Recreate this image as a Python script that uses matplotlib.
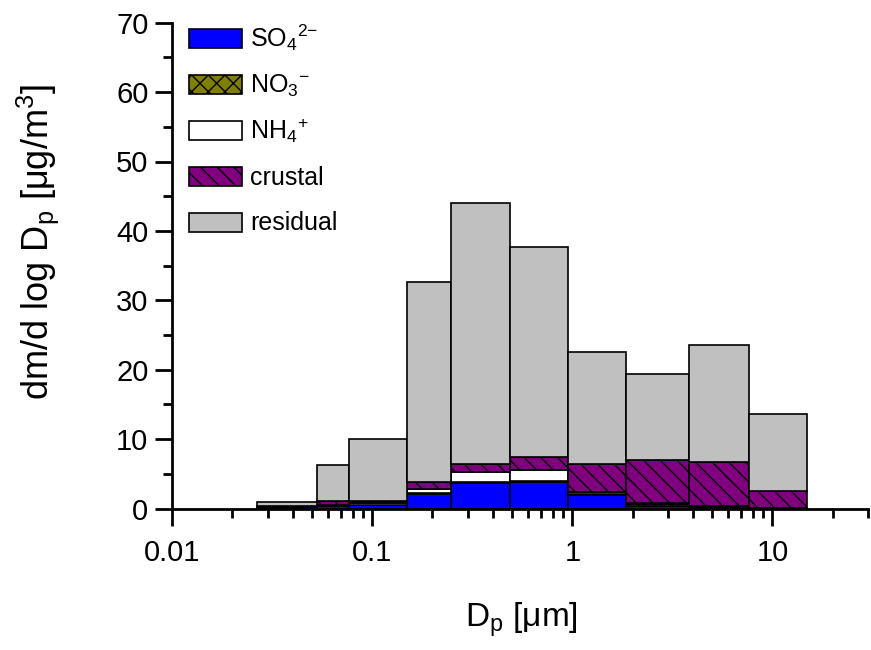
import matplotlib
matplotlib.use("Agg")
import matplotlib.pyplot as plt
import matplotlib.ticker as mticker
from matplotlib.patches import Rectangle
import numpy as np

plt.rcParams['font.family'] = ['Liberation Sans', 'DejaVu Sans']
plt.rcParams['mathtext.fontset'] = 'custom'
plt.rcParams['mathtext.rm'] = 'Liberation Sans'
plt.rcParams['mathtext.it'] = 'Liberation Sans:italic'
plt.rcParams['mathtext.bf'] = 'Liberation Sans:bold'
plt.rcParams['hatch.linewidth'] = 1.0

# impactor stage boundaries (um)
d_edges = [0.0266, 0.0530, 0.0762, 0.149, 0.247, 0.487, 0.948, 1.853, 3.835, 7.59, 14.89]

# dm/dlogDp per stage (ug/m3)
so4 = [0.15, 0.3, 0.46, 2.09, 3.72, 3.86, 1.95, 0.35, 0.25, 0.05]
no3 = [0.02, 0.05, 0.05, 0.12, 0.12, 0.10, 0.10, 0.30, 0.05, 0.02]
nh4 = [0.05, 0.1, 0.25, 0.60, 1.36, 1.60, 0.33, 0.10, 0.05, 0.02]
crustal = [0.08, 0.6, 0.32, 1.05, 1.17, 1.83, 4.10, 6.25, 6.40, 2.43]
residual = [0.7, 5.15, 8.92, 28.84, 37.63, 30.31, 16.02, 12.4, 16.85, 11.08]

labels = [r'SO$_4{}^{2\mathregular{-}}$', r'NO$_3{}^{\mathregular{-}}$', r'NH$_4{}^{\mathregular{+}}$', 'crustal', 'residual']
colors = ['#0000ff', '#808000', '#ffffff', '#800080', '#c0c0c0']
hatches = [None, 'xx', None, '\\\\', None]

fig = plt.figure(figsize=(8.71, 6.5), dpi=100)
ax = fig.add_axes([172/871, 141.5/650, 696/871, 485.8/650])

left = np.array(d_edges[:-1])
width = np.array(d_edges[1:]) - left
bottom = np.zeros(len(left))
for vals, c, h in zip([so4, no3, nh4, crustal, residual], colors, hatches):
    ax.bar(left, vals, width=width, bottom=bottom, align='edge', color=c,
           edgecolor='black', linewidth=1.2, hatch=h, zorder=2)
    bottom = bottom + np.array(vals)

ax.set_xscale('log')
ax.set_xlim(0.01, 30)
ax.set_ylim(0, 70)
ax.set_yticks(np.arange(0, 71, 10))
ax.yaxis.set_minor_locator(mticker.MultipleLocator(5))
ax.xaxis.set_major_locator(mticker.LogLocator(base=10, numticks=10))
ax.xaxis.set_minor_locator(mticker.LogLocator(base=10, subs=np.arange(2, 10), numticks=10))
ax.xaxis.set_major_formatter(mticker.FuncFormatter(lambda v, p: '%g' % v))
ax.xaxis.set_minor_formatter(mticker.NullFormatter())

for s in ['top', 'right']:
    ax.spines[s].set_visible(False)
for s in ['left', 'bottom']:
    ax.spines[s].set_linewidth(2)
ax.tick_params(which='major', length=12, width=2, labelsize=21, direction='out')
ax.tick_params(which='minor', length=6.5, width=2, direction='out')
ax.tick_params(axis='x', pad=10)
ax.tick_params(axis='y', pad=5)

# legend swatches
y0 = 0.9669
step = 0.0945
h = 0.0391
for i, (lab, c, hh) in enumerate(zip(labels, colors, hatches)):
    yc = y0 - i * step
    ax.add_patch(Rectangle((0.0244, yc - h / 2), 0.0757, h, transform=ax.transAxes,
                           facecolor=c, edgecolor='black', linewidth=1.2, hatch=hh,
                           clip_on=False, zorder=3))
    ax.text(0.112, yc - h / 2 + 0.003, lab, transform=ax.transAxes, fontsize=18,
            ha='left', va='baseline')

fig.text(38/871, 1 - 242/650, r'dm/d log D$_\mathregular{p}$ [μg/m$^\mathregular{3}$]',
         rotation=90, ha='center', va='center', fontsize=26)
fig.text(521/871, 1 - 627/650, r'D$_\mathregular{p}$ [μm]', ha='center', va='baseline', fontsize=24)

fig.savefig('out.png', dpi=100)
